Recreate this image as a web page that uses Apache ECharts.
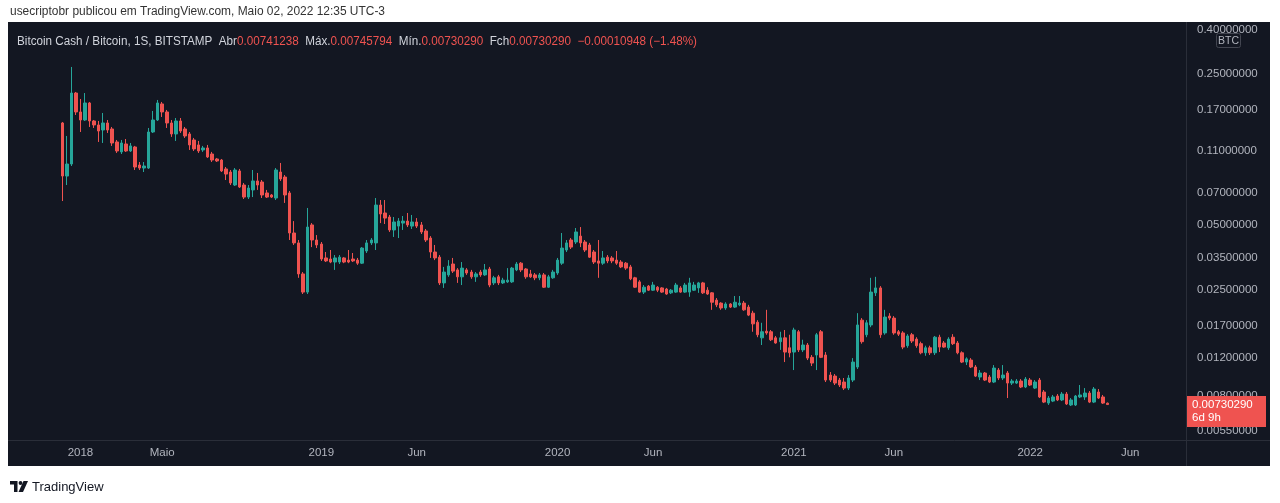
<!DOCTYPE html>
<html><head><meta charset="utf-8">
<script src="https://cdn.jsdelivr.net/npm/echarts@6/dist/echarts.min.js"></script>
<style>html,body{margin:0;padding:0;background:#fff;}#c{width:1280px;height:503px;}</style>
</head><body><div id="c"></div>
<script>
// ---- data (weekly candles, BCH/BTC, BITSTAMP) ----
const firstCandleWeek = '2017-12-04';
const axisStartWeek = '2017-09-18';
const axisWeeks = 259;
const opens = [
.1481,.0840,.0955,.2040,.1666,.1529,.1834,.1513,.1450,.1374,
.1481,.1389,.1209,.1087,.1183,.1098,.1146,.0945,.0915,.0915,
.1345,.1529,.1815,.1666,.1481,.1317,.1513,.1389,.1317,.1235,
.1171,.1110,.1134,.1063,.1008,.0997,.0906,.0877,.0763,.0887,
.0763,.0671,.0724,.0797,.0788,.0701,.0686,.0664,.0877,.0831,
.0701,.0457,.0411,.0295,.0243,.0498,.0424,.0406,.0350,.0346,
.0335,.0335,.0350,.0342,.0346,.0342,.0331,.0377,.0411,.0411,
.0616,.0566,.0542,.0472,.0492,.0508,.0519,.0492,.0514,.0498,
.0467,.0433,.0373,.0353,.0268,.0292,.0328,.0308,.0286,.0308,
.0301,.0286,.0301,.0292,.0311,.0268,.0286,.0268,.0271,.0271,
.0308,.0331,.0311,.0295,.0292,.0283,.0292,.0256,.0283,.0298,
.0331,.0381,.0424,.0415,.0442,.0415,.0402,.0373,.0339,.0331,
.0353,.0350,.0342,.0335,.0331,.0318,.0283,.0271,.0243,.0259,
.0248,.0256,.0254,.0251,.0241,.0243,.0254,.0243,.0243,.0248,
.0254,.0268,.0248,.0241,.0223,.0216,.0205,.0214,.0207,.0212,
.0216,.0207,.0194,.0176,.0149,.0160,.0159,.0149,.0143,.0149,
.0134,.0128,.0159,.0131,.0138,.0121,.0124,.0159,.0124,.01001,
.00990,.00949,.00929,.00871,.00949,.01091,.0180,.0154,.0171,.0241,
.0254,.0157,.0188,.0184,.0159,.0157,.0137,.0154,.0147,.0140,
.0127,.0134,.0127,.0150,.0141,.0134,.0150,.0141,.0127,.01150,
.01175,.01091,.00980,.01023,.00980,.00929,.01056,.00970,.01023,.00919,
.00919,.00939,.00881,.00949,.00871,.00949,.00835,.00742,.00758,.00800,
.00767,.00817,.00727,.00727,.00792,.00792,.00826,.00750,.00835,.00792,
.00741238];
const highs = [
.1497,.1289,.2695,.2063,.1914,.2040,.1854,.1529,.1513,.1648,
.1529,.1419,.1235,.1235,.1248,.1196,.1159,.0976,.0976,.1404,
.1684,.1894,.1854,.1702,.1529,.1562,.1562,.1419,.1345,.1262,
.1222,.1159,.1171,.1087,.1019,.1008,.0925,.0896,.0915,.0906,
.0780,.0763,.0896,.0868,.0805,.0724,.0693,.0915,.0966,.0849,
.0716,.0519,.0424,.0301,.0597,.0508,.0447,.0415,.0373,.0381,
.0361,.0361,.0353,.0381,.0369,.0350,.0393,.0424,.0433,.0664,
.0650,.0650,.0554,.0542,.0536,.0548,.0566,.0554,.0536,.0514,
.0477,.0442,.0402,.0361,.0318,.0342,.0350,.0314,.0335,.0314,
.0308,.0301,.0308,.0328,.0318,.0289,.0292,.0283,.0314,.0318,
.0335,.0335,.0314,.0308,.0298,.0298,.0298,.0292,.0308,.0350,
.0457,.0424,.0433,.0482,.0487,.0424,.0411,.0381,.0424,.0377,
.0361,.0357,.0377,.0342,.0335,.0325,.0286,.0276,.0262,.0262,
.0271,.0259,.0256,.0254,.0251,.0268,.0259,.0268,.0283,.0271,
.0271,.0271,.0256,.0243,.0228,.0218,.0218,.0216,.0233,.0233,
.0221,.0212,.0199,.0180,.0175,.0201,.0162,.0152,.0159,.0162,
.0154,.0166,.0162,.0146,.0141,.0124,.0157,.0162,.0128,.01034,
.01012,.00970,.00970,.01001,.0120,.0194,.0184,.0180,.0283,.0286,
.0259,.0201,.0194,.0188,.0162,.0160,.0155,.0157,.0150,.0143,
.0137,.0137,.0152,.0154,.0144,.0150,.0155,.0144,.0129,.0121,
.0120,.01114,.01056,.01034,.01001,.01114,.01079,.01114,.01045,.00959,
.00959,.00959,.00980,.00970,.00949,.00970,.00853,.00800,.00809,.00817,
.00835,.00835,.00783,.00809,.00900,.00871,.00844,.00881,.00862,.00809,
.00745794];
const lows = [
.0643,.0763,.0935,.1613,.1345,.1513,.1419,.1404,.1209,.1196,
.1331,.1159,.1075,.1063,.1087,.1087,.0896,.0896,.0877,.0906,
.1331,.1513,.1579,.1404,.1276,.1222,.1331,.1262,.1110,.1098,
.1075,.1087,.1019,.0976,.0976,.0877,.0805,.0763,.0755,.0739,
.0657,.0657,.0671,.0724,.0664,.0664,.0664,.0650,.0797,.0630,
.0424,.0402,.0283,.0238,.0238,.0393,.0389,.0339,.0335,.0331,
.0308,.0328,.0331,.0331,.0335,.0325,.0328,.0369,.0402,.0381,
.0508,.0503,.0462,.0438,.0433,.0472,.0487,.0477,.0482,.0452,
.0415,.0350,.0342,.0262,.0254,.0286,.0298,.0268,.0262,.0292,
.0280,.0271,.0286,.0289,.0256,.0262,.0262,.0265,.0268,.0268,
.0304,.0301,.0280,.0283,.0276,.0276,.0254,.0254,.0280,.0292,
.0325,.0373,.0385,.0406,.0393,.0373,.0350,.0328,.0283,.0325,
.0331,.0331,.0325,.0314,.0308,.0276,.0254,.0241,.0238,.0246,
.0246,.0243,.0241,.0236,.0238,.0241,.0241,.0241,.0231,.0246,
.0241,.0238,.0236,.0201,.0207,.0201,.0201,.0205,.0205,.0209,
.0199,.0188,.0159,.0150,.0138,.0154,.0144,.0140,.0131,.0115,
.0121,.01056,.0128,.0128,.01175,.01102,.01056,.0120,.00929,.00929,
.00900,.00881,.00853,.00853,.00929,.01068,.0140,.0150,.0167,.0233,
.0149,.0154,.0180,.0154,.0152,.0132,.0134,.0141,.0134,.0125,
.0123,.0124,.0124,.0128,.0134,.0131,.0138,.0125,.01138,.01114,
.01079,.00980,.00949,.00939,.00919,.00919,.00949,.00949,.00783,.00900,
.00910,.00871,.00871,.00890,.00862,.00783,.00742,.00727,.00750,.00758,
.00758,.00727,.00719,.00719,.00783,.00767,.00742,.00742,.00775,.00735,
.0073029];
const closes = [
.0840,.0955,.2040,.1666,.1529,.1834,.1513,.1450,.1359,.1481,
.1374,.1196,.1098,.1196,.1098,.1159,.0925,.0915,.0935,.1345,
.1529,.1834,.1666,.1481,.1317,.1513,.1359,.1289,.1171,.1122,
.1098,.1134,.1030,.0997,.0987,.0887,.0858,.0780,.0896,.0747,
.0671,.0739,.0797,.0763,.0686,.0671,.0671,.0896,.0814,.0686,
.0457,.0411,.0295,.0243,.0487,.0424,.0402,.0346,.0339,.0335,
.0350,.0353,.0335,.0335,.0339,.0331,.0389,.0411,.0424,.0616,
.0560,.0536,.0472,.0514,.0519,.0519,.0498,.0514,.0492,.0462,
.0424,.0373,.0350,.0268,.0301,.0321,.0304,.0286,.0314,.0298,
.0286,.0295,.0292,.0308,.0262,.0283,.0268,.0276,.0276,.0314,
.0328,.0308,.0286,.0286,.0283,.0292,.0256,.0286,.0301,.0342,
.0389,.0411,.0393,.0462,.0411,.0381,.0353,.0335,.0331,.0350,
.0339,.0339,.0331,.0318,.0314,.0280,.0256,.0243,.0256,.0248,
.0262,.0248,.0243,.0238,.0248,.0262,.0243,.0262,.0268,.0262,
.0268,.0241,.0238,.0218,.0212,.0205,.0214,.0207,.0218,.0216,
.0201,.0190,.0173,.0154,.0159,.0157,.0146,.0141,.0149,.0128,
.0127,.0162,.0131,.0138,.0120,.01138,.0154,.0121,.00949,.00949,
.00919,.00900,.00871,.00970,.01150,.0171,.0143,.0175,.0243,.0254,
.0154,.0186,.0184,.0157,.0155,.0135,.0152,.0144,.0137,.0127,
.0134,.0127,.0150,.0135,.0135,.0147,.0140,.0127,.01150,.0119,
.01091,.00990,.01023,.00949,.00929,.01079,.00970,.01001,.00919,.00939,
.00939,.00881,.00959,.00900,.00929,.00792,.00750,.00783,.00792,.00767,
.00817,.00735,.00767,.00800,.00809,.00826,.00750,.00862,.00783,.00742,
.0073029];
const priceTicks = [0.4, 0.25, 0.17, 0.11, 0.07, 0.05, 0.035, 0.025, 0.017, 0.012, 0.008, 0.0055];
const priceMin = 0.005, priceMax = 0.4358;
const timeTickDates = ['2018-01-01','2018-05-07','2019-01-07','2019-06-03','2020-01-06','2020-06-01','2021-01-04','2021-06-07','2022-01-03','2022-06-06'];
const timeTickTexts = ['2018','Maio','2019','Jun','2020','Jun','2021','Jun','2022','Jun'];
const lastPrice = '0.00730290';
const countdown = '6d 9h';

// ---- build ----
function addWeeks(iso, n){ const d = new Date(iso + 'T00:00:00Z'); d.setUTCDate(d.getUTCDate() + 7*n); return d.toISOString().slice(0,10); }
const weeks = []; for (let k = 0; k < axisWeeks; k++) weeks.push(addWeeks(axisStartWeek, k));
const offset = weeks.indexOf(firstCandleWeek);
const candleData = weeks.map((w, k) => { const i = k - offset; return (i >= 0 && i < opens.length) ? [opens[i], closes[i], lows[i], highs[i]] : '-'; });
const labelMap = {}; timeTickDates.forEach((d, j) => { labelMap[d] = timeTickTexts[j]; });

const FONT = '"Liberation Sans", Arial, sans-serif';
const mctx = document.createElement('canvas').getContext('2d');
function fitScale(text, size, target){ mctx.font = size + 'px ' + FONT; return target / mctx.measureText(text).width; }

const topLine = 'usecriptobr publicou em TradingView.com, Maio 02, 2022 12:35 UTC-3';
const legendParts = [
  ['n','Bitcoin Cash / Bitcoin, 1S, BITSTAMP  Abr'], ['r','0.00741238'],
  ['n','  Máx.'], ['r','0.00745794'], ['n','  Mín.'], ['r','0.00730290'],
  ['n','  Fch'], ['r','0.00730290'], ['r','  \u22120.00010948 (\u22121.48%)']
];
const legendPlain = legendParts.map(p => p[1]).join('');
const legendRich = legendParts.map(p => '{' + p[0] + '|' + p[1] + '}').join('');

const chart = echarts.init(document.getElementById('c'));
chart.setOption({
  animation: false,
  backgroundColor: '#ffffff',
  grid: { left: 10, top: 22, width: 1177, height: 418, containLabel: false, outerBoundsMode: 'none' },
  xAxis: {
    type: 'category', data: weeks, boundaryGap: true,
    axisLine: { show: false }, axisTick: { show: false }, splitLine: { show: false },
    axisLabel: {
      interval: (idx, val) => labelMap[val] !== undefined,
      formatter: v => labelMap[v] || '',
      color: '#b2b5be', fontSize: 11.5, fontFamily: FONT, margin: 7
    }
  },
  yAxis: [
    { type: 'log', logBase: 10, min: priceMin, max: priceMax, position: 'right',
      axisLine: { show: false }, axisTick: { show: false }, axisLabel: { show: false }, splitLine: { show: false } },
    { type: 'value', min: Math.log10(priceMin), max: Math.log10(priceMax), position: 'right',
      axisLine: { show: false }, axisTick: { show: false }, splitLine: { show: false },
      axisLabel: { customValues: priceTicks.map(Math.log10), formatter: v => Math.pow(10, v).toFixed(8),
        color: '#b2b5be', fontSize: 11.5, fontFamily: FONT, margin: 10 } }
  ],
  series: [{
    type: 'candlestick', yAxisIndex: 0, data: candleData, barWidth: 3,
    itemStyle: { color: '#26a69a', color0: '#ef5350', borderColor: '#26a69a', borderColor0: '#ef5350', borderWidth: 1 }
  }],
  graphic: [
    { type: 'rect', z: -100, silent: true, shape: { x: 8, y: 22, width: 1262, height: 444 }, style: { fill: '#131722' } },
    { type: 'line', z: 50, silent: true, shape: { x1: 8, y1: 440.5, x2: 1270, y2: 440.5 }, style: { stroke: '#2a2e39', lineWidth: 1 } },
    { type: 'line', z: 50, silent: true, shape: { x1: 1186.5, y1: 22, x2: 1186.5, y2: 466 }, style: { stroke: '#2a2e39', lineWidth: 1 } },
    { type: 'text', z: 100, silent: true, x: 10, y: 12, scaleX: fitScale(topLine, 12, 375),
      style: { text: topLine, fill: '#333333', font: '12px ' + FONT, verticalAlign: 'middle' } },
    { type: 'text', z: 100, silent: true, x: 17, y: 42, scaleX: fitScale(legendPlain, 12, 680),
      style: { text: legendRich, verticalAlign: 'middle', font: '12px ' + FONT,
        rich: { n: { fill: '#d1d4dc', font: '12px ' + FONT }, r: { fill: '#ef5350', font: '12px ' + FONT } } } },
    { type: 'rect', z: 100, silent: true, shape: { x: 1216.5, y: 33.5, width: 24, height: 14, r: 2 }, style: { fill: '#131722', stroke: '#434651', lineWidth: 1 } },
    { type: 'text', z: 101, silent: true, x: 1228.5, y: 41, style: { text: 'BTC', fill: '#b2b5be', font: '10.5px ' + FONT, align: 'center', verticalAlign: 'middle' } },
    { type: 'rect', z: 100, silent: true, shape: { x: 1187, y: 396, width: 79, height: 31 }, style: { fill: '#ef5350' } },
    { type: 'text', z: 101, silent: true, x: 1192, y: 405, style: { text: lastPrice, fill: '#ffffff', font: '11.5px ' + FONT, verticalAlign: 'middle' } },
    { type: 'text', z: 101, silent: true, x: 1192, y: 418, style: { text: countdown, fill: '#ffffff', font: '11.5px ' + FONT, verticalAlign: 'middle' } },
    { type: 'polygon', z: 100, silent: true, shape: { points: [[10,481],[17.5,481],[17.5,492],[14,492],[14,484.5],[10,484.5]] }, style: { fill: '#131722' } },
    { type: 'circle', z: 100, silent: true, shape: { cx: 20.5, cy: 483, r: 1.9 }, style: { fill: '#131722' } },
    { type: 'polygon', z: 100, silent: true, shape: { points: [[23.5,481],[28,481],[23,492],[18.5,492]] }, style: { fill: '#131722' } },
    { type: 'text', z: 100, silent: true, x: 32, y: 487, style: { text: 'TradingView', fill: '#131722', font: '13px ' + FONT, verticalAlign: 'middle' } }
  ]
});
</script>
</body></html>
